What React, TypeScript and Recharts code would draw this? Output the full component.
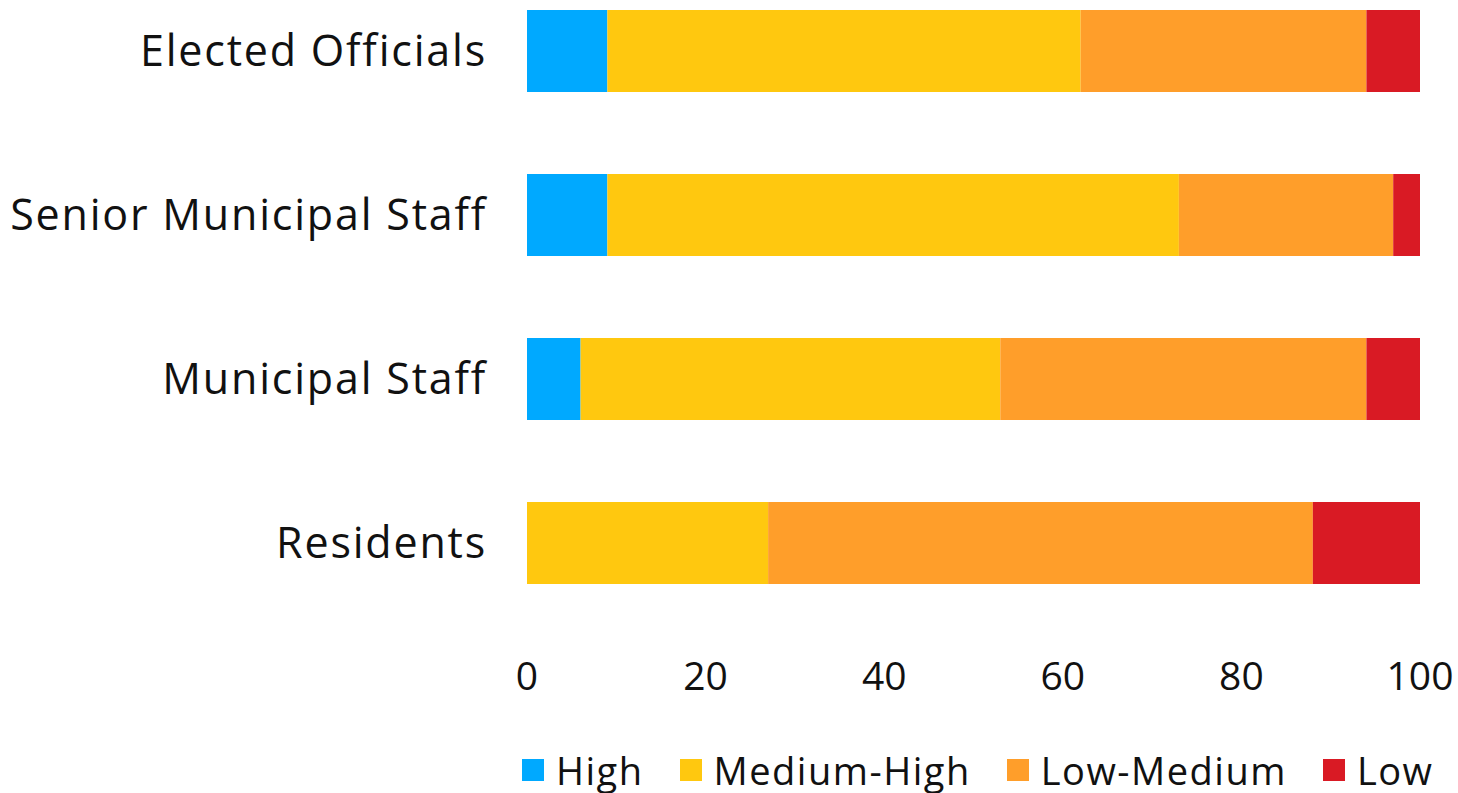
import React from 'react';
import { BarChart, Bar, XAxis, YAxis, Legend } from 'recharts';

const categories = ['Elected Officials', 'Senior Municipal Staff', 'Municipal Staff', 'Residents'];
const high = [9, 9, 6, 0];
const mediumHigh = [53, 64, 47, 27];
const lowMedium = [32, 24, 41, 61];
const low = [6, 3, 6, 12];
const xTicks = [0, 20, 40, 60, 80, 100];

const series = [
  { key: 'high', name: 'High', values: high, color: '#00A9FF' },
  { key: 'mediumHigh', name: 'Medium-High', values: mediumHigh, color: '#FFC80F' },
  { key: 'lowMedium', name: 'Low-Medium', values: lowMedium, color: '#FF9E2A' },
  { key: 'low', name: 'Low', values: low, color: '#D91A24' },
];

const data = categories.map((name, i) => {
  const row: Record<string, string | number> = { name };
  series.forEach((s) => {
    row[s.key] = s.values[i];
  });
  return row;
});

const FONT = '"Open Sans", "Liberation Sans", sans-serif';

const renderLegend = () => (
  <div
    style={{
      display: 'flex',
      alignItems: 'center',
      gap: 36,
      paddingLeft: 522,
      height: 40,
      fontFamily: FONT,
      fontSize: 38,
      letterSpacing: 1.5,
      color: '#111',
      whiteSpace: 'nowrap',
    }}
  >
    {series.map((s) => (
      <div key={s.key} style={{ display: 'flex', alignItems: 'center', flexShrink: 0 }}>
        <span style={{ display: 'inline-block', width: 22, height: 22, background: s.color, marginRight: 12 }} />
        <span style={{ lineHeight: '40px' }}>{s.name}</span>
      </div>
    ))}
  </div>
);

// plot area starts above the page so the four 164px bands line up with the reference
const App: React.FC = () => {
  return (
    <div style={{ position: 'absolute', left: 0, top: 0, width: 1458, height: 793, background: '#fff', overflow: 'hidden' }}>
      <div style={{ position: 'absolute', left: 0, top: -31 }}>
        <BarChart
          width={1458}
          height={824}
          data={data}
          layout="vertical"
          barCategoryGap="25%"
          margin={{ top: 0, right: 38, bottom: 3, left: 0 }}
        >
          <XAxis
            type="number"
            domain={[0, 100]}
            ticks={xTicks}
            axisLine={false}
            tickLine={false}
            tickMargin={31}
            height={125}
            tick={{ fill: '#111', fontSize: 39, fontFamily: FONT }}
            interval={0}
          />
          <YAxis
            type="category"
            dataKey="name"
            width={527}
            axisLine={false}
            tickLine={false}
            tickMargin={34}
            tick={{ fill: '#111', fontSize: 43, fontFamily: FONT, letterSpacing: 1.8 }}
            interval={0}
          />
          <Legend
            verticalAlign="bottom"
            content={renderLegend}
            wrapperStyle={{ left: 0, width: 1458, height: 40 }}
          />
          {series.map((s) => (
            <Bar key={s.key} name={s.name} dataKey={s.key} stackId="a" fill={s.color} isAnimationActive={false} />
          ))}
        </BarChart>
      </div>
    </div>
  );
};

export default App;
